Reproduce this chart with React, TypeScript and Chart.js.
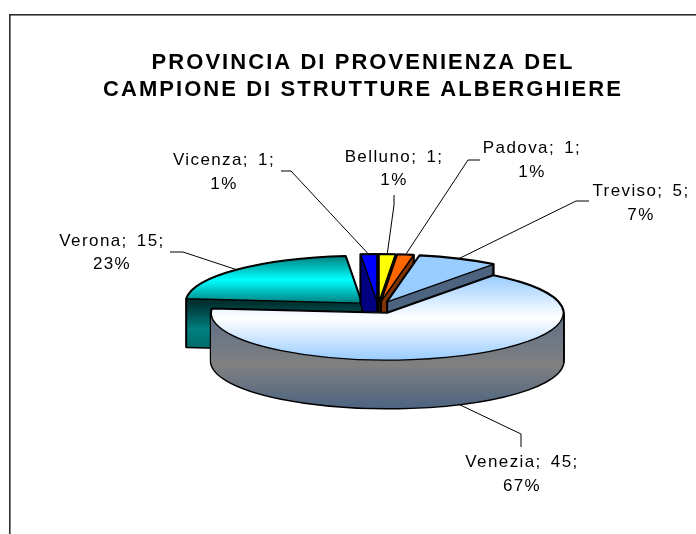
import React, { useEffect, useRef } from "react";
import { Chart, registerables } from "chart.js";

Chart.register(...registerables);

const titleLines = ["PROVINCIA DI PROVENIENZA DEL", "CAMPIONE DI STRUTTURE ALBERGHIERE"];
const categories = ["Belluno", "Padova", "Treviso", "Venezia", "Verona", "Vicenza"];
const counts = [1, 1, 5, 45, 15, 1];
const percents = [1, 1, 7, 67, 23, 1];
const faceColors = ["#ffff00", "#ff6600", "#99ccff", "#99ccff", "#00ffff", "#0000ff"];
const faceEdgeColors = ["#ffff00", "#ff6600", "#99ccff", "#99ccff", "#008080", "#0000ff"];
const faceMidColors = ["#ffff00", "#ff6600", "#99ccff", "#ffffff", "#00ffff", "#0000ff"];
const wallTopColors = ["#666600", "#803300", "#4d6480", "#5d6f87", "#003030", "#000080"];
const wallMidColors = ["#808000", "#803300", "#4d6480", "#808080", "#008080", "#000080"];
const wallEndColors = ["#666600", "#803300", "#4d6480", "#4d6482", "#006666", "#000080"];
const paintOrder = [4, 5, 0, 1, 2, 3];

// Layout of the callouts: label centre, first and second text line, elbow and line start
const labelCentreX = [394, 532, 641, 522, 112, 224];
const labelLine1Y = [157, 148, 191, 462, 241, 160];
const labelLine2Y = [180, 172, 215, 486, 264, 184];
const elbowX = [394, 468, 576, 521, 183, 291];
const elbowY = [205, 160, 201, 434, 252, 171];
const leaderX = [394, 480, 589, 521, 170, 281];
const leaderY = [195, 160, 201, 447, 252, 171];

const TILT = 0.267;
const DEPTH = 48;
const EXPLODE = 23;
const SHIFT_X = 15;

const pie3d = {
  id: "pie3d",
  beforeDraw(chart: any) {
    const { ctx } = chart;
    ctx.save();
    ctx.fillStyle = "#ffffff";
    ctx.fillRect(0, 0, chart.width, chart.height);
    ctx.strokeStyle = "#2e2e2e";
    ctx.lineWidth = 1.6;
    ctx.strokeRect(9.8, 14.8, 900, 900);
    ctx.restore();
    ctx.letterSpacing = "2.05px";
  },
  beforeDatasetDraw(chart: any) {
    const { ctx } = chart;
    const arcs = chart.getDatasetMeta(0).data;
    ctx.save();
    const geom = arcs.map((arc: any) => {
      const mid = (arc.startAngle + arc.endAngle) / 2;
      const cx = arc.x + SHIFT_X + EXPLODE * Math.cos(mid);
      const cy = arc.y + EXPLODE * Math.sin(mid) * TILT;
      return { arc, mid, cx, cy, r: arc.outerRadius, ry: arc.outerRadius * TILT };
    });
    const trace = (g: any, dy: number) => {
      ctx.beginPath();
      ctx.moveTo(g.cx, g.cy + dy);
      ctx.ellipse(g.cx, g.cy + dy, g.r, g.ry, 0, g.arc.startAngle, g.arc.endAngle);
      ctx.closePath();
    };
    const bbox = (g: any) => {
      let top = g.cy;
      let bottom = g.cy;
      for (let i = 0; i <= 120; i++) {
        const a = g.arc.startAngle + ((g.arc.endAngle - g.arc.startAngle) * i) / 120;
        const y = g.cy + g.ry * Math.sin(a);
        top = Math.min(top, y);
        bottom = Math.max(bottom, y);
      }
      return { top, bottom };
    };
    for (const i of paintOrder) {
      const g = geom[i];
      const { top, bottom } = bbox(g);
      // silhouette of the extruded body
      ctx.strokeStyle = "#000000";
      ctx.lineWidth = 2.8;
      ctx.lineJoin = "round";
      for (let d = DEPTH; d >= 0; d -= 2) {
        trace(g, d);
        ctx.stroke();
      }
      const wall = ctx.createLinearGradient(0, g.cy, 0, bottom + DEPTH);
      wall.addColorStop(0, wallTopColors[i]);
      wall.addColorStop(0.55, wallMidColors[i]);
      wall.addColorStop(1, wallEndColors[i]);
      ctx.fillStyle = wall;
      for (let d = DEPTH; d >= 0; d--) {
        trace(g, d);
        ctx.fill();
      }
      // wall corners that face the viewer
      ctx.lineWidth = 1.4;
      const corner = (a: number) => {
        const x = g.cx + g.r * Math.cos(a);
        const y = g.cy + g.ry * Math.sin(a);
        ctx.beginPath();
        ctx.moveTo(x, y);
        ctx.lineTo(x, y + DEPTH);
        ctx.stroke();
      };
      let tip = false;
      if (Math.sin(g.arc.startAngle - Math.PI / 2) > 0.01) {
        corner(g.arc.startAngle);
        tip = true;
      }
      if (Math.sin(g.arc.endAngle + Math.PI / 2) > 0.01) {
        corner(g.arc.endAngle);
        tip = true;
      }
      if (tip) {
        ctx.beginPath();
        ctx.moveTo(g.cx, g.cy);
        ctx.lineTo(g.cx, g.cy + DEPTH);
        ctx.stroke();
      }
      // top face, drawn by the library's own arc element
      const ax = g.arc.x;
      const ay = g.arc.y;
      const toLocal = (ys: number) => ay + (ys - g.cy) / TILT;
      const face = ctx.createLinearGradient(0, toLocal(top), 0, toLocal(bottom));
      face.addColorStop(0, faceEdgeColors[i]);
      face.addColorStop(0.5, faceMidColors[i]);
      face.addColorStop(1, faceEdgeColors[i]);
      const el = Object.create(g.arc);
      el.options = { ...g.arc.options, backgroundColor: face, borderWidth: 0 };
      ctx.save();
      ctx.translate(g.cx, g.cy);
      ctx.scale(1, TILT);
      ctx.translate(-ax, -ay);
      el.draw(ctx);
      ctx.restore();
      ctx.strokeStyle = "#000000";
      ctx.lineWidth = 1.4;
      trace(g, 0);
      ctx.stroke();
    }
    // callouts
    ctx.strokeStyle = "#000000";
    ctx.lineWidth = 1;
    ctx.lineJoin = "miter";
    ctx.fillStyle = "#000000";
    ctx.font = "17px 'Liberation Sans'";
    ctx.letterSpacing = "1.4px";
    ctx.wordSpacing = "3px";
    ctx.textAlign = "center";
    ctx.textBaseline = "middle";
    geom.forEach((g: any, i: number) => {
      const front = Math.sin(g.mid) > 0;
      const ex = g.cx + g.r * Math.cos(g.mid);
      const ey = g.cy + g.ry * Math.sin(g.mid) + (front ? DEPTH : 0);
      ctx.beginPath();
      ctx.moveTo(leaderX[i], leaderY[i]);
      ctx.lineTo(elbowX[i], elbowY[i]);
      ctx.lineTo(ex, ey);
      ctx.stroke();
      ctx.fillText(`${categories[i]}; ${counts[i]};`, labelCentreX[i], labelLine1Y[i]);
      ctx.fillText(`${percents[i]}%`, labelCentreX[i], labelLine2Y[i]);
    });
    ctx.wordSpacing = "0px";
    ctx.restore();
    return false;
  },
};

export default function App() {
  const ref = useRef<HTMLCanvasElement>(null);
  useEffect(() => {
    document.body.style.margin = "0";
    const chart = new Chart(ref.current!, {
      type: "pie",
      data: {
        labels: categories,
        datasets: [{ data: counts, backgroundColor: faceColors, borderWidth: 0 }],
      },
      options: {
        responsive: false,
        animation: false,
        rotation: 0,
        layout: { padding: { left: 30, right: 0, top: 49, bottom: 50.5 } },
        events: [],
        plugins: {
          legend: { display: false },
          tooltip: { enabled: false },
          title: {
            display: true,
            text: titleLines,
            color: "#000000",
            font: { family: "'Liberation Sans'", size: 22, weight: "bold", lineHeight: 1.25 },
            padding: { top: 0, bottom: 27.5 },
          },
        },
      },
      plugins: [pie3d],
    } as any);
    return () => chart.destroy();
  }, []);
  return <canvas ref={ref} width={696} height={534} style={{ display: "block" }} />;
}
